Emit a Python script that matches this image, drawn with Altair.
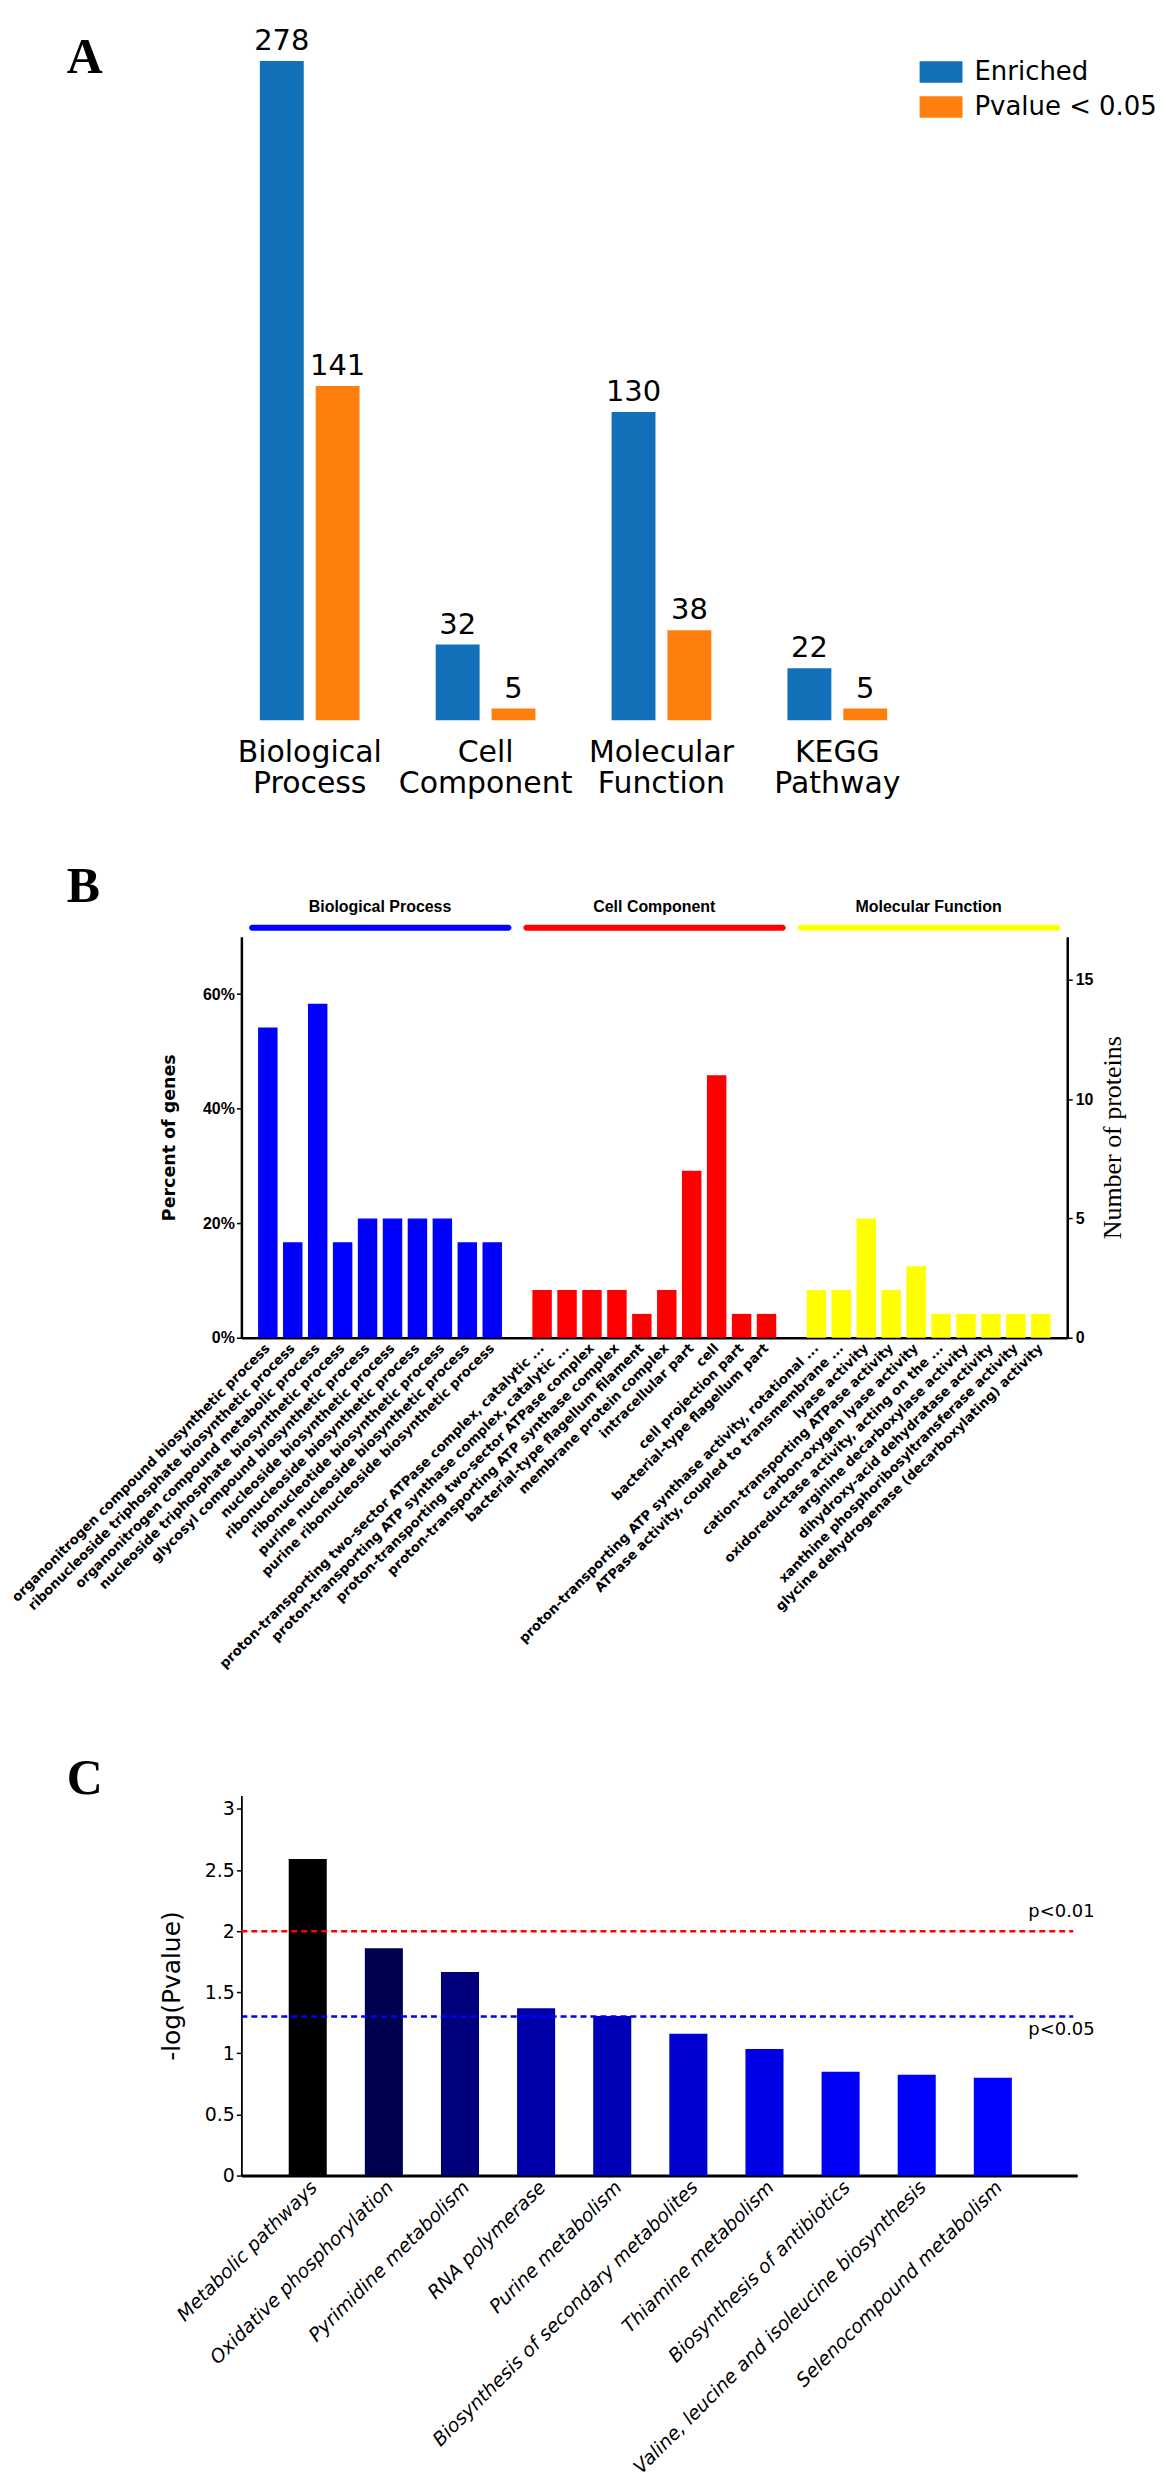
import altair as alt
import pandas as pd

# ---------------- Panel A data ----------------
a_categories = ["Biological Process", "Cell Component", "Molecular Function", "KEGG Pathway"]
a_series = ["Enriched", "Pvalue < 0.05"]
a_enriched = [278, 32, 130, 22]
a_pvalue = [141, 5, 38, 5]
a_colors = ["#1170b8", "#ff7f0e"]

# ---------------- Panel B data ----------------
b_groups = ["Biological Process", "Cell Component", "Molecular Function"]
b_group_colors = ["#0000ff", "#ff0000", "#ffff00"]
b_bp_terms = [
    "organonitrogen compound biosynthetic process",
    "ribonucleoside triphosphate biosynthetic process",
    "organonitrogen compound metabolic process",
    "nucleoside triphosphate biosynthetic process",
    "glycosyl compound biosynthetic process",
    "nucleoside biosynthetic process",
    "ribonucleoside biosynthetic process",
    "ribonucleotide biosynthetic process",
    "purine nucleoside biosynthetic process",
    "purine ribonucleoside biosynthetic process",
]
b_bp_counts = [13, 4, 14, 4, 5, 5, 5, 5, 4, 4]
b_cc_terms = [
    "proton-transporting two-sector ATPase complex, catalytic ...",
    "proton-transporting ATP synthase complex, catalytic ...",
    "proton-transporting two-sector ATPase complex",
    "proton-transporting ATP synthase complex",
    "bacterial-type flagellum filament",
    "membrane protein complex",
    "intracellular part",
    "cell",
    "cell projection part",
    "bacterial-type flagellum part",
]
b_cc_counts = [2, 2, 2, 2, 1, 2, 7, 11, 1, 1]
b_mf_terms = [
    "proton-transporting ATP synthase activity, rotational ...",
    "ATPase activity, coupled to transmembrane ...",
    "lyase activity",
    "cation-transporting ATPase activity",
    "carbon-oxygen lyase activity",
    "oxidoreductase activity, acting on the ...",
    "arginine decarboxylase activity",
    "dihydroxy-acid dehydratase activity",
    "xanthine phosphoribosyltransferase activity",
    "glycine dehydrogenase (decarboxylating) activity",
]
b_mf_counts = [2, 2, 5, 2, 3, 1, 1, 1, 1, 1]
b_total_genes = 24
b_pct_ticks = [0, 0.2, 0.4, 0.6]
b_count_ticks = [0, 5, 10, 15]

# ---------------- Panel C data ----------------
c_pathways = [
    "Metabolic pathways",
    "Oxidative phosphorylation",
    "Pyrimidine metabolism",
    "RNA polymerase",
    "Purine metabolism",
    "Biosynthesis of secondary metabolites",
    "Thiamine metabolism",
    "Biosynthesis of antibiotics",
    "Valine, leucine and isoleucine biosynthesis",
    "Selenocompound metabolism",
]
c_values = [2.59, 1.86, 1.665, 1.37, 1.305, 1.16, 1.035, 0.85, 0.825, 0.80]
c_colors = ["#000000", "#000050", "#00007a", "#0000aa", "#0000b8",
            "#0000d0", "#0000e6", "#0000f8", "#0000ff", "#0000ff"]
c_thresholds = [2.0, 1.301]
c_threshold_labels = ["p<0.01", "p<0.05"]
c_threshold_colors = ["#ff0000", "#0000ff"]
c_ticks = [0, 0.5, 1, 1.5, 2, 2.5, 3]

LETTER_FONT = dict(font="Liberation Serif", fontSize=50, fontWeight="bold",
                   align="left", baseline="alphabetic", color="black")
spacer_df = pd.DataFrame({"s": [0]})


def spacer(x, y):
    return alt.Chart(spacer_df).mark_rect(opacity=0).encode(
        x=alt.value(x), x2=alt.value(x + 1), y=alt.value(y), y2=alt.value(y + 1))


def letter(txt, y):
    return alt.Chart(pd.DataFrame({"letter": [txt]})).mark_text(**LETTER_FONT).encode(
        x=alt.value(-175), y=alt.value(y), text="letter:N")


# ================= Panel A =================
dfA = pd.DataFrame({
    "category": a_categories * 2,
    "series": [a_series[0]] * len(a_categories) + [a_series[1]] * len(a_categories),
    "value": a_enriched + a_pvalue,
})
xA = alt.X("category:N",
           scale=alt.Scale(domain=a_categories, paddingInner=0.365, paddingOuter=0.071),
           axis=alt.Axis(title=None, domain=False, ticks=False, labelAngle=0,
                         labelFont="DejaVu Sans", labelFontSize=30, labelColor="black",
                         labelPadding=17, labelLineHeight=31, labelLimit=1000,
                         labelExpr="split(datum.label, ' ')"))
xoA = alt.XOffset("series:N", scale=alt.Scale(domain=a_series, paddingInner=0.214, paddingOuter=0.107))
yA = alt.Y("value:Q", scale=alt.Scale(domain=[0, 278], nice=False), axis=None)

barsA = alt.Chart(dfA).mark_bar().encode(
    x=xA, xOffset=xoA, y=yA,
    color=alt.Color("series:N", scale=alt.Scale(domain=a_series, range=a_colors),
                    legend=alt.Legend(title=None, orient="none", legendX=680, legendY=-10.5,
                                      direction="vertical",
                                      symbolType="M-1,-0.5H1V0.5H-1Z", symbolSize=1849,
                                      symbolStrokeWidth=0, symbolOpacity=1,
                                      labelFont="DejaVu Sans", labelFontSize=26,
                                      labelColor="black", labelOffset=12, rowPadding=0,
                                      padding=0, labelLimit=1000)))
textA = alt.Chart(dfA).mark_text(baseline="alphabetic", dy=-11, font="DejaVu Sans",
                                 fontSize=29, color="black").encode(
    x=xA, xOffset=xoA, y=yA, text="value:Q")

panelA = alt.layer(barsA, textA, letter("A", 12), spacer(-233, -50), spacer(0, 762)).properties(
    width=666, height=661)

# ================= Panel B =================
b_slots = b_bp_terms + [" "] + b_cc_terms + ["  "] + b_mf_terms
dfB = pd.DataFrame({
    "term": b_bp_terms + b_cc_terms + b_mf_terms,
    "count": b_bp_counts + b_cc_counts + b_mf_counts,
    "group": [b_groups[0]] * len(b_bp_terms) + [b_groups[1]] * len(b_cc_terms) + [b_groups[2]] * len(b_mf_terms),
})
xScaleB = alt.Scale(domain=b_slots, paddingInner=0.22, paddingOuter=0.67)
xAxisB = alt.Axis(title=None, labelAngle=-45, labelAlign="right", labelBaseline="middle",
                  labelPadding=8, labelFont="DejaVu Sans", labelFontWeight="bold",
                  labelFontSize=13.3, labelColor="black", labelLimit=1000, labelOverlap=False,
                  ticks=False, domainColor="black", domainWidth=2.5)
colorB = alt.Color("group:N", scale=alt.Scale(domain=b_groups, range=b_group_colors), legend=None)

pctB = alt.Chart(dfB).transform_calculate(pct=f"datum.count / {b_total_genes}").mark_bar(opacity=0).encode(
    x=alt.X("term:N", scale=xScaleB, axis=xAxisB),
    y=alt.Y("pct:Q", scale=alt.Scale(domain=[0, 0.70], nice=False),
            axis=alt.Axis(orient="left", values=b_pct_ticks, format=".0%", title="Percent of genes",
                          titleFont="DejaVu Sans", titleFontSize=17.5, titleFontWeight="bold",
                          titleColor="black", titlePadding=24,
                          labelFont="Liberation Sans", labelFontSize=16, labelFontWeight="bold",
                          labelColor="black", labelPadding=2, tickSize=5, tickWidth=1.5,
                          tickColor="black", domainColor="black", domainWidth=2.5, grid=False)))
countB = alt.Chart(dfB).mark_bar().encode(
    x=alt.X("term:N", scale=xScaleB, axis=xAxisB),
    y=alt.Y("count:Q", scale=alt.Scale(domain=[0, 16.8], nice=False),
            axis=alt.Axis(orient="right", values=b_count_ticks, title="Number of proteins",
                          titleFont="Liberation Serif", titleFontSize=26, titleFontWeight="normal",
                          titleColor="black", titleAngle=270, titleBaseline="top", titlePadding=7,
                          labelFont="Liberation Sans", labelFontSize=16, labelFontWeight="bold",
                          labelColor="black", labelPadding=3, tickSize=5, tickWidth=1.5,
                          tickColor="black", domainColor="black", domainWidth=2.5, grid=False)),
    color=colorB)

dfG = pd.DataFrame({
    "group": b_groups,
    "first": [b_bp_terms[0], b_cc_terms[0], b_mf_terms[0]],
    "last": [b_bp_terms[-1], b_cc_terms[-1], b_mf_terms[-1]],
    "mid": [b_bp_terms[4], b_cc_terms[4], b_mf_terms[4]],
})
rectB = alt.Chart(dfG).mark_rect(cornerRadius=3, xOffset=-9, x2Offset=9.5).encode(
    x=alt.X("first:N", bandPosition=0, scale=xScaleB, axis=xAxisB),
    x2=alt.X2("last:N", bandPosition=1),
    y=alt.value(-12), y2=alt.value(-6), color=colorB)
headB = alt.Chart(dfG).mark_text(font="Liberation Sans", fontWeight="bold", fontSize=16,
                                 baseline="middle", dx=2.75, color="black").encode(
    x=alt.X("mid:N", bandPosition=1, scale=xScaleB, axis=xAxisB),
    y=alt.value(-30), text="group:N")

panelB = alt.layer(pctB, countB, rectB, headB, letter("B", -35),
                   spacer(-233, -115), spacer(0, 785)).resolve_scale(y="independent").properties(
    width=828, height=402)

# ================= Panel C =================
dfC = pd.DataFrame({"pathway": c_pathways, "value": c_values})
dfT = pd.DataFrame({"thr": c_thresholds, "label": c_threshold_labels})
xScaleC = alt.Scale(domain=c_pathways, paddingInner=0.5, paddingOuter=0.74, align=0.42)
xAxisC = alt.Axis(title=None, labelAngle=-45, labelAlign="right", labelBaseline="top",
                  labelPadding=2, labelFont="DejaVu Sans", labelFontStyle="italic",
                  labelFontSize=19, labelColor="black", labelLimit=1000, labelOverlap=False,
                  ticks=False, domainColor="black", domainWidth=3)
yScaleC = alt.Scale(domain=[0, 3.11], nice=False)
yAxisC = alt.Axis(values=c_ticks, format="~g", title="-log(Pvalue)", titleFont="DejaVu Sans",
                  titleFontSize=25, titleFontWeight="normal", titleColor="black", titlePadding=20,
                  labelFont="DejaVu Sans", labelFontSize=19, labelColor="black", labelPadding=2,
                  tickSize=5, tickWidth=1.5, tickColor="black", domainColor="black",
                  domainWidth=1.8, grid=False)

barsC = alt.Chart(dfC).mark_bar().encode(
    x=alt.X("pathway:N", scale=xScaleC, axis=xAxisC),
    y=alt.Y("value:Q", scale=yScaleC, axis=yAxisC),
    color=alt.Color("pathway:N", scale=alt.Scale(domain=c_pathways, range=c_colors), legend=None))
rulesC = alt.Chart(dfT).mark_rule(strokeDash=[6, 4], strokeWidth=2.5).encode(
    y=alt.Y("thr:Q", scale=yScaleC, axis=yAxisC),
    x=alt.value(0), x2=alt.value(834),
    stroke=alt.Stroke("label:N", scale=alt.Scale(domain=c_threshold_labels, range=c_threshold_colors),
                      legend=None))


def thr_text(lbl, dy):
    return alt.Chart(dfT).transform_filter(alt.datum.label == lbl).mark_text(
        align="left", baseline="middle", dy=dy, font="DejaVu Sans", fontSize=18, color="black").encode(
        x=alt.value(789), y=alt.Y("thr:Q", scale=yScaleC, axis=yAxisC), text="label:N")


panelC = alt.layer(barsC, rulesC, thr_text(c_threshold_labels[0], -19), thr_text(c_threshold_labels[1], 13),
                   letter("C", -2), spacer(-233, -75)).properties(width=838, height=381)

chart = alt.vconcat(panelA, panelB, panelC, spacing=0).resolve_scale(
    color="independent", stroke="independent").properties(padding=0).configure_view(stroke=None)
chart.save("out.html", embed_options={"renderer": "svg", "actions": False})
